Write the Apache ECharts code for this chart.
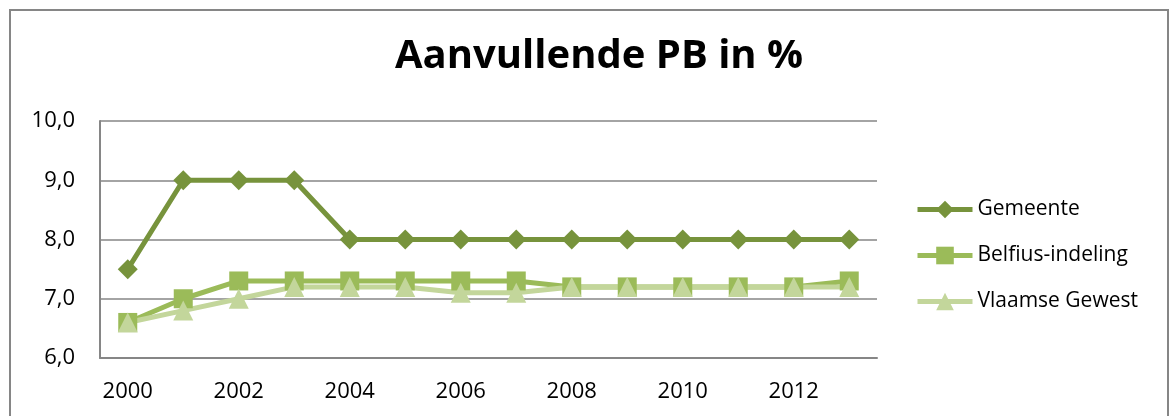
<!DOCTYPE html>
<html>
<head>
<meta charset="utf-8">
<script src="https://cdn.jsdelivr.net/npm/echarts@6/dist/echarts.min.js"></script>
<style>
    html, body { margin: 0; padding: 0; background: #fff; overflow: hidden; }
    #frame { position: absolute; left: 9px; top: 9px; width: 1160px; height: 420px; border: 2px solid #868686; box-sizing: border-box; }
    #chart { position: absolute; left: 0; top: 0; width: 1169px; height: 416px; }
</style>
</head>
<body>
<div id="frame"></div>
<div id="chart"></div>
<script>
    var years = ['2000', '2001', '2002', '2003', '2004', '2005', '2006', '2007', '2008', '2009', '2010', '2011', '2012', '2013'];
    var gemeente = [7.5, 9.0, 9.0, 9.0, 8.0, 8.0, 8.0, 8.0, 8.0, 8.0, 8.0, 8.0, 8.0, 8.0];
    var belfius = [6.6, 7.0, 7.3, 7.3, 7.3, 7.3, 7.3, 7.3, 7.2, 7.2, 7.2, 7.2, 7.2, 7.3];
    var vlaams = [6.6, 6.8, 7.0, 7.2, 7.2, 7.2, 7.1, 7.1, 7.2, 7.2, 7.2, 7.2, 7.2, 7.2];

    var font = '"Open Sans", sans-serif';

    var chart = echarts.init(document.getElementById('chart'));
    chart.setOption({
        animation: false,
        title: {
            text: 'Aanvullende PB in %',
            left: 390,
            top: 32,
            textStyle: { fontFamily: font, fontSize: 40, fontWeight: 'bold', color: '#000' }
        },
        legend: {
            orient: 'vertical',
            left: 910,
            top: 194,
            itemWidth: 55,
            itemHeight: 22,
            itemGap: 25,
            lineStyle: { width: 5 },
            textStyle: { fontFamily: font, fontSize: 21, color: '#000' },
            data: ['Gemeente', 'Belfius-indeling', 'Vlaamse Gewest']
        },
        grid: { left: 100, top: 121, width: 777, height: 237 },
        xAxis: {
            type: 'category',
            data: years,
            boundaryGap: true,
            axisLine: { lineStyle: { color: '#868686', width: 2 } },
            axisTick: { show: false },
            axisLabel: { interval: 1, margin: 23, color: '#000', fontFamily: font, fontSize: 22 }
        },
        yAxis: {
            type: 'value',
            min: 6,
            max: 10,
            interval: 1,
            axisLine: { show: true, lineStyle: { color: '#868686', width: 2 } },
            axisTick: { show: false },
            splitLine: { lineStyle: { color: '#868686', width: 1.5 } },
            axisLabel: {
                margin: 25, color: '#000', fontFamily: font, fontSize: 22,
                formatter: function (v) { return v.toFixed(1).replace('.', ','); }
            }
        },
        series: [
            {
                name: 'Gemeente', type: 'line', data: gemeente,
                symbol: 'diamond', symbolSize: 20,
                lineStyle: { color: '#77933C', width: 5 },
                itemStyle: { color: '#77933C' }
            },
            {
                name: 'Belfius-indeling', type: 'line', data: belfius,
                symbol: 'rect', symbolSize: 19,
                lineStyle: { color: '#9BBB59', width: 5 },
                itemStyle: { color: '#9BBB59' }
            },
            {
                name: 'Vlaamse Gewest', type: 'line', data: vlaams,
                symbol: 'triangle', symbolSize: 20,
                lineStyle: { color: '#C3D69B', width: 5 },
                itemStyle: { color: '#C3D69B' }
            }
        ]
    });
</script>
</body>
</html>
